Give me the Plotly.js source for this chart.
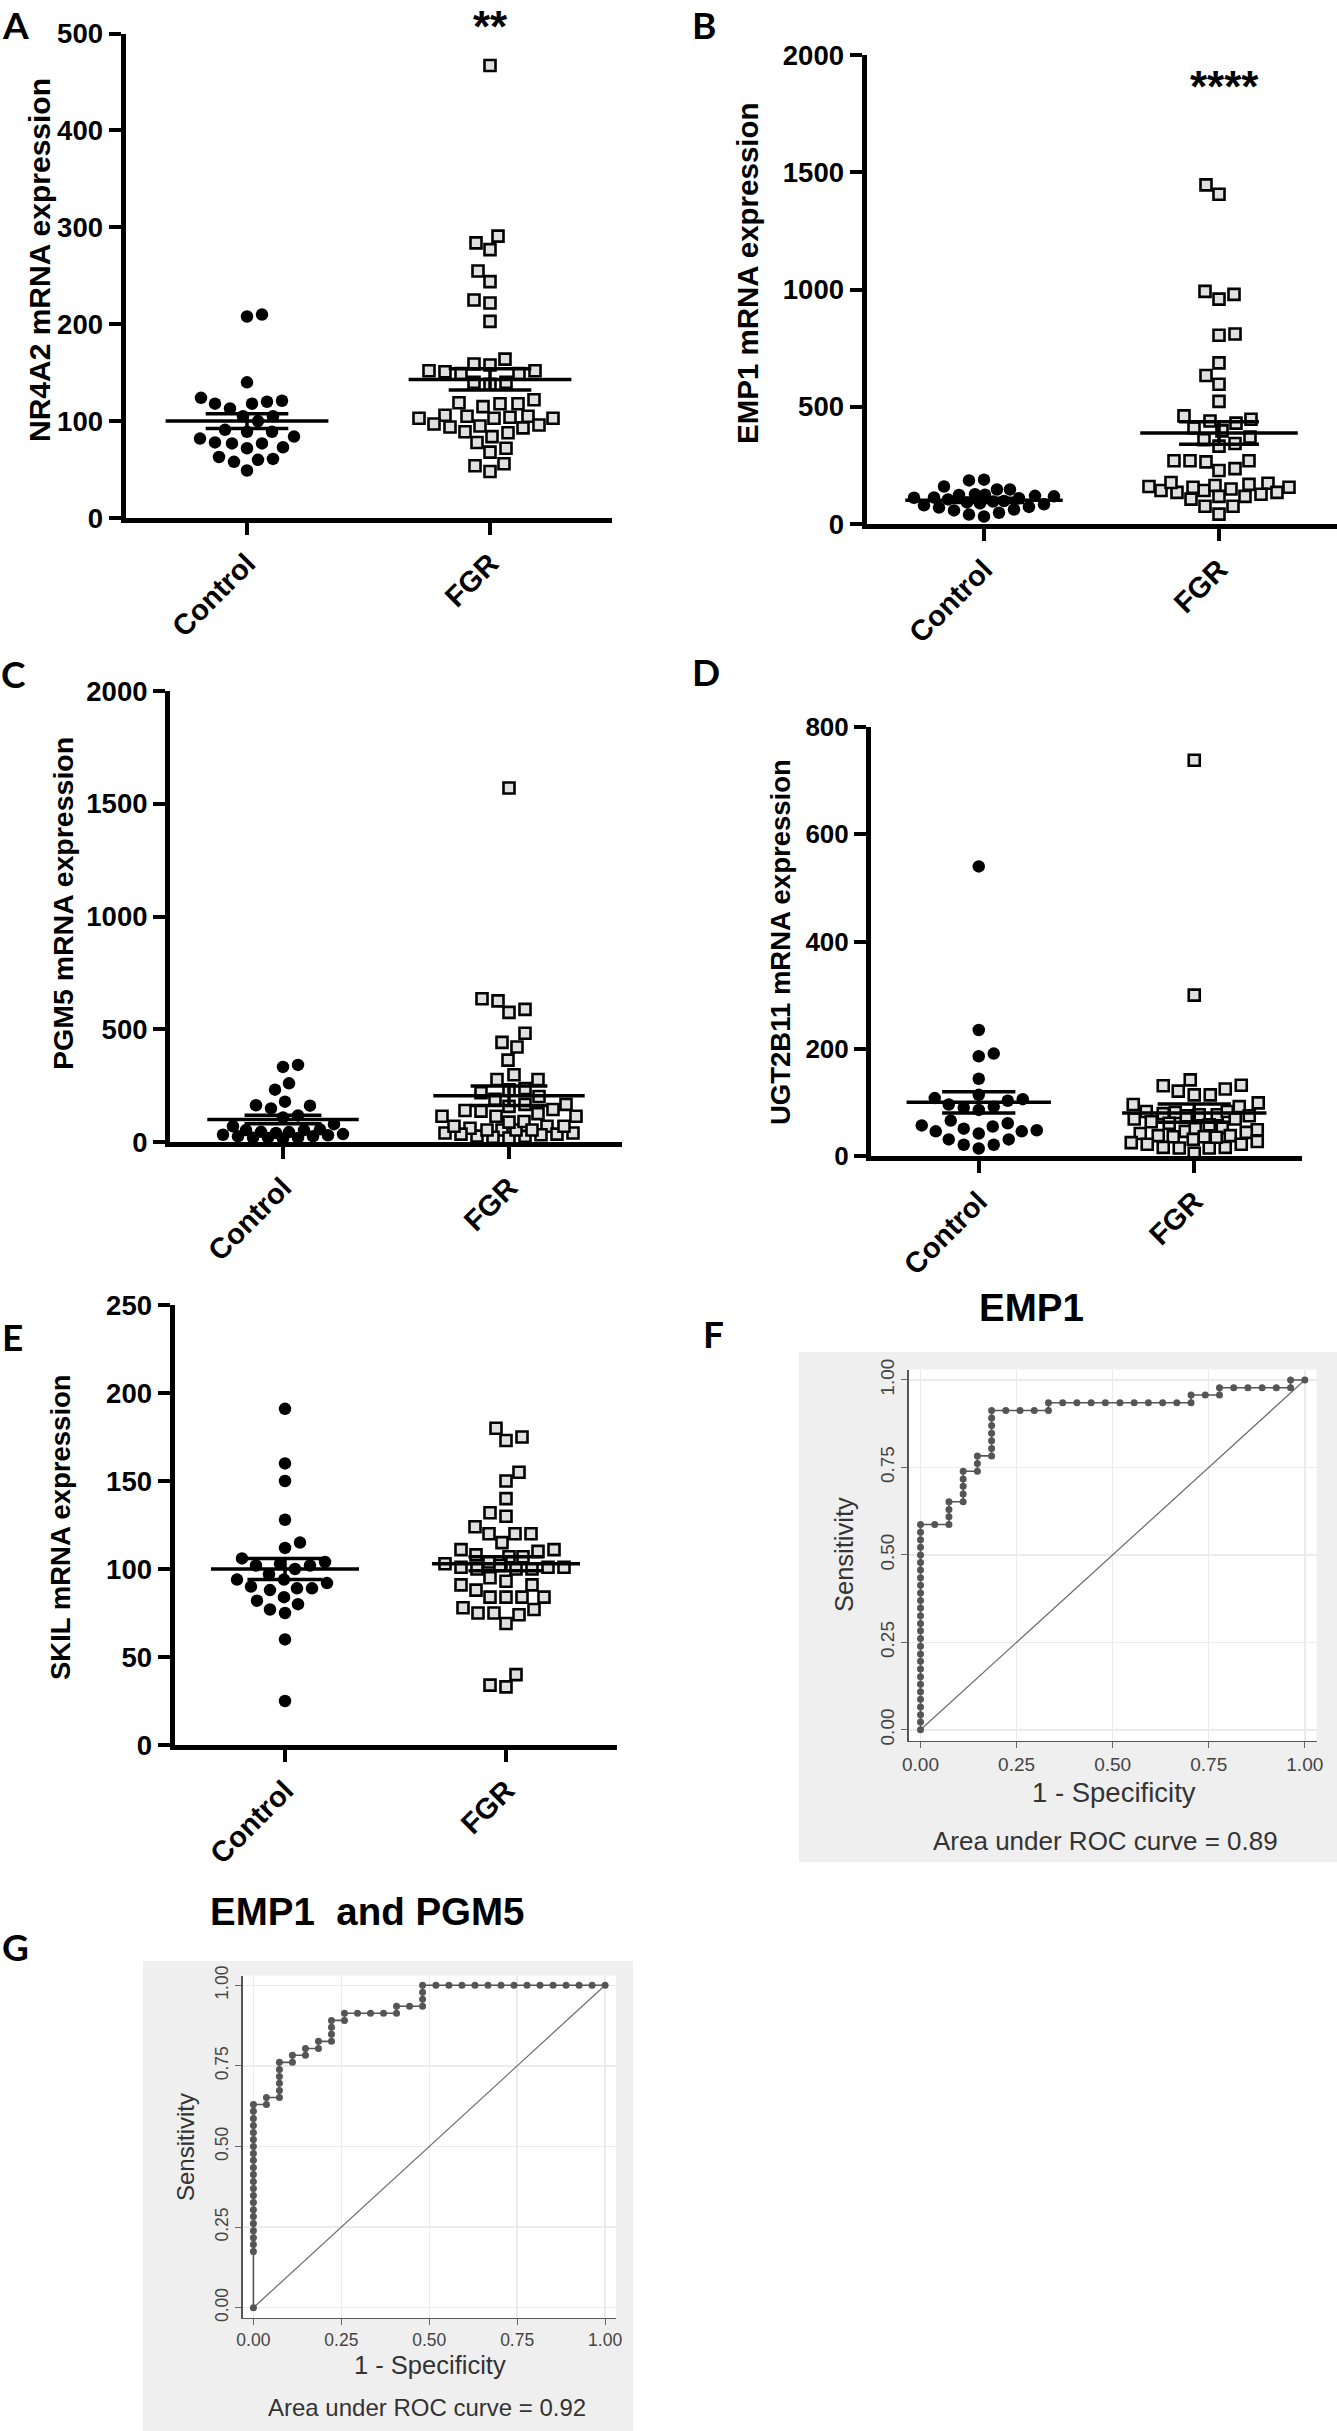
<!DOCTYPE html>
<html><head><meta charset="utf-8">
<script src="https://cdn.plot.ly/plotly-3.0.1.min.js"></script>
<style>html,body{margin:0;padding:0;background:#fff}#chart{width:1337px;height:2431px}</style>
</head><body><div id="chart"></div>
<script>
// ---------------- DATA ----------------
const groups = ['Control', 'FGR'];

const nr4a2Control = [208, 210, 140, 120, 118, 124, 121, 113, 118, 105, 100, 105, 91, 89, 82, 77, 73, 72, 77, 78, 84, 89, 63, 60, 58, 61, 49];
const nr4a2FGR = [467, 284, 291, 277, 255, 244, 222, 225, 203, 164, 158, 152, 149, 149, 151, 152, 159, 140, 138, 140, 119, 118, 115, 118, 122, 105, 104, 103, 103, 103, 105, 106, 97, 95, 93, 94, 96, 88, 84, 89, 78, 72, 68, 56, 54, 48];
const nr4a2Mean = [100, 143];
const nr4a2Sem = [7.5, 11];

const emp1Control = [186, 147, 147, 160, 189, 127, 125, 124, 120, 118, 113, 112, 110, 105, 98, 96, 92, 88, 84, 80, 73, 70, 62, 58, 48, 40, 32];
const emp1FGR = [1446, 1406, 992, 959, 979, 810, 805, 687, 633, 596, 523, 447, 430, 439, 461, 410, 397, 371, 343, 332, 359, 270, 265, 228, 236, 270, 270, 174, 160, 157, 143, 143, 135, 127, 135, 149, 157, 164, 169, 177, 118, 106, 118, 76, 76, 42];
const emp1Mean = [101, 388];
const emp1Sem = [9, 48];

const pgm5Control = [342, 333, 260, 232, 179, 161, 149, 163, 118, 109, 79, 53, 40, 32, 25, 19, 18, 14, 18, 25, 30, 35, 44, 53, 56, 70, 45];
const pgm5FGR = [1570, 626, 635, 575, 588, 482, 421, 442, 363, 277, 277, 298, 232, 219, 237, 189, 202, 167, 158, 140, 126, 114, 114, 114, 137, 144, 167, 70, 53, 40, 26, 21, 18, 25, 32, 40, 53, 61, 91, 88, 35, 35, 70, 70, 53, 53];
const pgm5Mean = [100, 205];
const pgm5Sem = [19, 43];

const ugt2b11Control = [540, 235, 186, 191, 144, 108, 114, 103, 106, 92, 86, 90, 96, 66, 61, 57, 51, 46, 48, 46, 42, 55, 31, 31, 21, 21, 14];
const ugt2b11FGR = [738, 300, 132, 125, 114, 114, 121, 131, 142, 99, 92, 96, 83, 79, 77, 75, 75, 77, 81, 83, 69, 64, 69, 61, 53, 49, 44, 38, 38, 42, 46, 51, 36, 31, 25, 22, 16, 15, 15, 16, 22, 27, 35, 36, 5, 58];
const ugt2b11Mean = [100, 80];
const ugt2b11Sem = [20, 17];

const skilControl = [191, 160, 150, 128, 115, 112, 104, 102, 97, 102, 103, 106, 94, 90, 89, 88, 89, 92, 94, 84, 80, 75, 77, 82, 60, 25, 100];
const skilFGR = [180, 173, 175, 155, 150, 140, 132, 130, 124, 120, 120, 120, 115, 111, 108, 107, 107, 110, 111, 104, 102, 100, 100, 101, 101, 100, 101, 103, 91, 95, 91, 93, 88, 84, 84, 84, 84, 78, 75, 74, 69, 75, 77, 40, 33, 34];
const skilMean = [100, 103];
const skilSem = [6, 4];

const rocTicks = [0, 0.25, 0.5, 0.75, 1];
const rocTickText = ['0.00', '0.25', '0.50', '0.75', '1.00'];
const refX = [0, 1];
const refY = [0, 1];

const emp1RocFpr = [0,0,0,0,0,0,0,0,0,0,0,0,0,0,0,0,0,0,0,0,0,0,0,0,0,0,0,0,
  0.037, 0.074, 0.074, 0.074, 0.074, 0.111, 0.111, 0.111, 0.111, 0.111, 0.148, 0.148, 0.148,
  0.185, 0.185, 0.185, 0.185, 0.185, 0.185, 0.185, 0.222, 0.259, 0.296, 0.333, 0.333,
  0.370, 0.407, 0.444, 0.481, 0.519, 0.556, 0.593, 0.630, 0.667, 0.704, 0.704, 0.741, 0.778, 0.778,
  0.815, 0.852, 0.889, 0.926, 0.963, 0.963, 1.000];
const emp1RocTpr = [0.000, 0.022, 0.043, 0.065, 0.087, 0.109, 0.130, 0.152, 0.174, 0.196, 0.217, 0.239, 0.261, 0.283,
  0.304, 0.326, 0.348, 0.370, 0.391, 0.413, 0.435, 0.457, 0.478, 0.500, 0.522, 0.543, 0.565, 0.587,
  0.587, 0.587, 0.609, 0.630, 0.652, 0.652, 0.674, 0.696, 0.717, 0.739, 0.739, 0.761, 0.783,
  0.783, 0.804, 0.826, 0.848, 0.870, 0.891, 0.913, 0.913, 0.913, 0.913, 0.913, 0.935,
  0.935, 0.935, 0.935, 0.935, 0.935, 0.935, 0.935, 0.935, 0.935, 0.935, 0.957, 0.957, 0.957, 0.978,
  0.978, 0.978, 0.978, 0.978, 0.978, 1.000, 1.000];

const comboRocFpr = [0, 0,0,0,0,0,0,0,0,0,0,0,0,0,0,0,0,0,0,0,0,0,0,
  0.037, 0.037, 0.074, 0.074, 0.074, 0.074, 0.074, 0.074, 0.111, 0.111, 0.148, 0.148, 0.185, 0.185,
  0.222, 0.222, 0.222, 0.222, 0.259, 0.259, 0.296, 0.333, 0.370, 0.407, 0.407, 0.444,
  0.481, 0.481, 0.481, 0.481, 0.519, 0.556, 0.593, 0.630, 0.667, 0.704, 0.741, 0.778, 0.815, 0.852, 0.889, 0.926, 0.963, 1.000];
const comboRocTpr = [0.000, 0.174, 0.196, 0.217, 0.239, 0.261, 0.283, 0.304, 0.326, 0.348, 0.370, 0.391, 0.413, 0.435,
  0.457, 0.478, 0.500, 0.522, 0.543, 0.565, 0.587, 0.609, 0.630,
  0.630, 0.652, 0.652, 0.674, 0.696, 0.717, 0.739, 0.761, 0.761, 0.783, 0.783, 0.804, 0.804, 0.826,
  0.826, 0.848, 0.870, 0.891, 0.891, 0.913, 0.913, 0.913, 0.913, 0.913, 0.935, 0.935,
  0.935, 0.957, 0.978, 1.000, 1.000, 1.000, 1.000, 1.000, 1.000, 1.000, 1.000, 1.000, 1.000, 1.000, 1.000, 1.000, 1.000, 1.000];

// ---------------- LAYOUT CONFIG ----------------
const W = 1337, H = 2431;
const fx = p => p / W;
const fy = p => 1 - p / H;
const BOLD = 'Liberation Sans, Arial, sans-serif';
const LABELFONT = 'Lato, Open Sans, sans-serif';

const dotPanels = [
  {ax: '', label: 'A', lab: [15, 24], xpx: [125.5, 611.5], ypx: [33.6, 518], ymax: 500, dtick: 100,
   title: 'NR4A2 mRNA expression', tpos: [40, 260], tsize: 30, ticksize: 27.5,
   ctrl: nr4a2Control, fgr: nr4a2FGR, mean: nr4a2Mean, sem: nr4a2Sem, stars: '**', spos: [490, 27]},
  {ax: '2', label: 'B', lab: [704, 24], xpx: [866.5, 1336.5], ypx: [55, 524], ymax: 2000, dtick: 500,
   title: 'EMP1 mRNA expression', tpos: [747, 273], tsize: 29.5, ticksize: 27.5,
   ctrl: emp1Control, fgr: emp1FGR, mean: emp1Mean, sem: emp1Sem, stars: '****', spos: [1224, 86]},
  {ax: '3', label: 'C', lab: [13, 674], xpx: [170, 622], ypx: [691, 1142], ymax: 2000, dtick: 500,
   title: 'PGM5 mRNA expression', tpos: [63, 904], tsize: 28.5, ticksize: 27.5,
   ctrl: pgm5Control, fgr: pgm5FGR, mean: pgm5Mean, sem: pgm5Sem},
  {ax: '4', label: 'D', lab: [706, 672], xpx: [871, 1302], ypx: [727, 1156], ymax: 800, dtick: 200,
   title: 'UGT2B11 mRNA expression', tpos: [780, 942], tsize: 27.5, ticksize: 26,
   ctrl: ugt2b11Control, fgr: ugt2b11FGR, mean: ugt2b11Mean, sem: ugt2b11Sem},
  {ax: '5', label: 'E', lab: [12, 1336], xpx: [174.5, 616.5], ypx: [1305, 1745], ymax: 250, dtick: 50,
   title: 'SKIL mRNA expression', tpos: [61, 1527], tsize: 27.5, ticksize: 27.5,
   ctrl: skilControl, fgr: skilFGR, mean: skilMean, sem: skilSem}
];

const rocPanels = [
  {ax: '6', label: 'F', lab: [713, 1333], title: 'EMP1', tpos: [1031, 1307],
   box: [799, 1352, 1337, 1862], plot: [908.6, 1369.5, 1316.7, 1741],
   fpr: emp1RocFpr, tpr: emp1RocTpr, auc: 'Area under ROC curve = 0.89',
   sens: [844, 1555], spec: [1114, 1792], aucPos: [1105, 1841], tick: 19, tfont: 27.5, sfont: 25.5, afont: 26},
  {ax: '7', label: 'G', lab: [15, 1946], title: 'EMP1\u00a0 and PGM5', tpos: [368, 1911],
   box: [143, 1961, 633, 2431], plot: [242.5, 1975.6, 616, 2318],
   fpr: comboRocFpr, tpr: comboRocTpr, auc: 'Area under ROC curve = 0.92',
   sens: [185, 2147], spec: [430, 2365], aucPos: [427, 2407], tick: 17.5, tfont: 25.5, sfont: 24, afont: 24}
];

// beeswarm with a bounded width: offsets (px); diameter shrinks where points are dense
function swarm(values, pxPerUnit, d, maxOff) {
  const order = values.map((v, i) => i).sort((a, b) => values[a] - values[b]);
  const placed = [];
  const off = new Array(values.length);
  let flip = 1;
  for (const i of order) {
    const y = values[i] * pxPerUnit;
    let best = null, dd = d;
    while (best === null) {
      for (let k = 0; k <= maxOff && best === null; k++) {
        const cands = k === 0 ? [0] : [flip * k, -flip * k];
        for (const c of cands) {
          if (placed.every(p => (p.x - c) * (p.x - c) + (p.y - y) * (p.y - y) >= dd * dd)) { best = c; break; }
        }
      }
      dd *= 0.9;
    }
    flip = -flip;
    placed.push({x: best, y: y});
    off[i] = best;
  }
  return off;
}

const traces = [];
const layout = {
  width: W, height: H, margin: {l: 0, r: 0, t: 0, b: 0},
  paper_bgcolor: '#ffffff', plot_bgcolor: 'rgba(0,0,0,0)', showlegend: false,
  annotations: [], shapes: []
};

const ann = (text, px, py, size, opts) => Object.assign({
  text: text, xref: 'paper', yref: 'paper', x: fx(px), y: fy(py), xanchor: 'center', yanchor: 'middle',
  showarrow: false, font: {family: BOLD, size: size, color: '#000', weight: 'bold'}
}, opts || {});
const labelAnn = (t, pos) => ann(t, pos[0], pos[1], 37,
  {font: {family: LABELFONT, size: 37, color: '#000', weight: 'bold'}});

dotPanels.forEach(p => {
  const xa = 'x' + p.ax, ya = 'y' + p.ax;
  const xk = 'xaxis' + p.ax, yk = 'yaxis' + p.ax;
  const unitX = (p.xpx[1] - p.xpx[0]) / 2;
  const pxPerY = (p.ypx[1] - p.ypx[0]) / p.ymax;
  const cOff = swarm(p.ctrl, pxPerY, 15, 0.3 * unitX);
  const fOff = swarm(p.fgr, pxPerY, 15.5, 0.3 * unitX);
  traces.push({type: 'scatter', mode: 'markers', xaxis: xa, yaxis: ya, cliponaxis: false,
    x: p.ctrl.map((v, i) => 1 + cOff[i] / unitX), y: p.ctrl,
    marker: {symbol: 'circle', size: 12.5, color: '#000'}, hoverinfo: 'skip'});
  traces.push({type: 'scatter', mode: 'markers', xaxis: xa, yaxis: ya, cliponaxis: false,
    x: p.fgr.map((v, i) => 2 + fOff[i] / unitX), y: p.fgr,
    marker: {symbol: 'square', size: 11, color: '#e0e0e0', line: {color: '#000', width: 2.6}}, hoverinfo: 'skip'});
  const lx = [], ly = [];
  [0, 1].forEach(g => {
    const c = g + 1, m = p.mean[g], s = p.sem[g];
    lx.push(c - 0.335, c + 0.335, null, c - 0.17, c + 0.17, null, c - 0.17, c + 0.17, null, c, c, null);
    ly.push(m, m, null, m + s, m + s, null, m - s, m - s, null, m - s, m + s, null);
  });
  traces.push({type: 'scatter', mode: 'lines', xaxis: xa, yaxis: ya, cliponaxis: false, x: lx, y: ly,
    line: {color: '#000', width: 3.5}, hoverinfo: 'skip'});

  layout[xk] = {domain: [fx(p.xpx[0]), fx(p.xpx[1])], anchor: ya, range: [0.5, 2.5],
    tickvals: [1, 2], ticktext: groups, tickangle: -45, ticks: 'outside', ticklen: 12, tickwidth: 4,
    tickcolor: '#000', showline: true, linewidth: 5, linecolor: '#000', showgrid: false, zeroline: false,
    tickfont: {family: BOLD, size: 29, color: '#000', weight: 'bold'}, fixedrange: true};
  layout[yk] = {domain: [fy(p.ypx[1]), fy(p.ypx[0])], anchor: xa, range: [0, p.ymax], dtick: p.dtick,
    tick0: 0, ticks: 'outside', ticklen: 12, tickwidth: 4, tickcolor: '#000', showline: true, linewidth: 5,
    linecolor: '#000', showgrid: false, zeroline: false,
    tickfont: {family: BOLD, size: p.ticksize, color: '#000', weight: 'bold'}, fixedrange: true};

  layout.annotations.push(ann(p.title, p.tpos[0], p.tpos[1], p.tsize, {textangle: -90}));
  layout.annotations.push(labelAnn(p.label, p.lab));
  if (p.stars) layout.annotations.push(ann(p.stars, p.spos[0], p.spos[1], 44));
});

rocPanels.forEach(p => {
  const xa = 'x' + p.ax, ya = 'y' + p.ax;
  const xk = 'xaxis' + p.ax, yk = 'yaxis' + p.ax;
  layout.shapes.push({type: 'rect', xref: 'paper', yref: 'paper', layer: 'below',
    x0: fx(p.box[0]), x1: fx(p.box[2]), y0: fy(p.box[3]), y1: fy(p.box[1]),
    fillcolor: '#efefef', line: {width: 0}});
  layout.shapes.push({type: 'rect', xref: 'paper', yref: 'paper', layer: 'below',
    x0: fx(p.plot[0]), x1: fx(p.plot[2]), y0: fy(p.plot[3]), y1: fy(p.plot[1]),
    fillcolor: '#ffffff', line: {width: 0}});
  traces.push({type: 'scatter', mode: 'lines', xaxis: xa, yaxis: ya, x: refX, y: refY,
    line: {color: '#6a6a6a', width: 1.2}, hoverinfo: 'skip'});
  traces.push({type: 'scatter', mode: 'lines+markers', xaxis: xa, yaxis: ya, cliponaxis: false,
    x: p.fpr, y: p.tpr, line: {color: '#555', width: 1.6}, marker: {size: 7, color: '#555'}, hoverinfo: 'skip'});
  const tf = {family: 'Liberation Sans, Arial, sans-serif', size: p.tick, color: '#444'};
  const common = {tickvals: rocTicks, ticktext: rocTickText, showgrid: true, gridcolor: '#ebebeb', gridwidth: 1.5,
    zeroline: false, showline: true, linecolor: '#555', linewidth: 1.2, ticks: 'outside', ticklen: 6,
    tickcolor: '#666', tickwidth: 1, tickfont: tf, fixedrange: true};
  layout[xk] = Object.assign({domain: [fx(p.plot[0]), fx(p.plot[2])], anchor: ya, range: [-0.031, 1.031]}, common);
  layout[yk] = Object.assign({domain: [fy(p.plot[3]), fy(p.plot[1])], anchor: xa, range: [-0.032, 1.03], tickangle: -90}, common);

  const reg = (t, pos, size, extra) => ann(t, pos[0], pos[1], size, Object.assign({
    font: {family: 'Liberation Sans, Arial, sans-serif', size: size, color: '#333'}}, extra || {}));
  layout.annotations.push(ann(p.title, p.tpos[0], p.tpos[1], 38.5));
  layout.annotations.push(reg('Sensitivity', p.sens, p.sfont, {textangle: -90}));
  layout.annotations.push(reg('1 - Specificity', p.spec, p.tfont));
  layout.annotations.push(reg(p.auc, p.aucPos, p.afont));
  layout.annotations.push(labelAnn(p.label, p.lab));
});

Plotly.newPlot('chart', traces, layout, {staticPlot: true, displayModeBar: false});
</script>
</body></html>
